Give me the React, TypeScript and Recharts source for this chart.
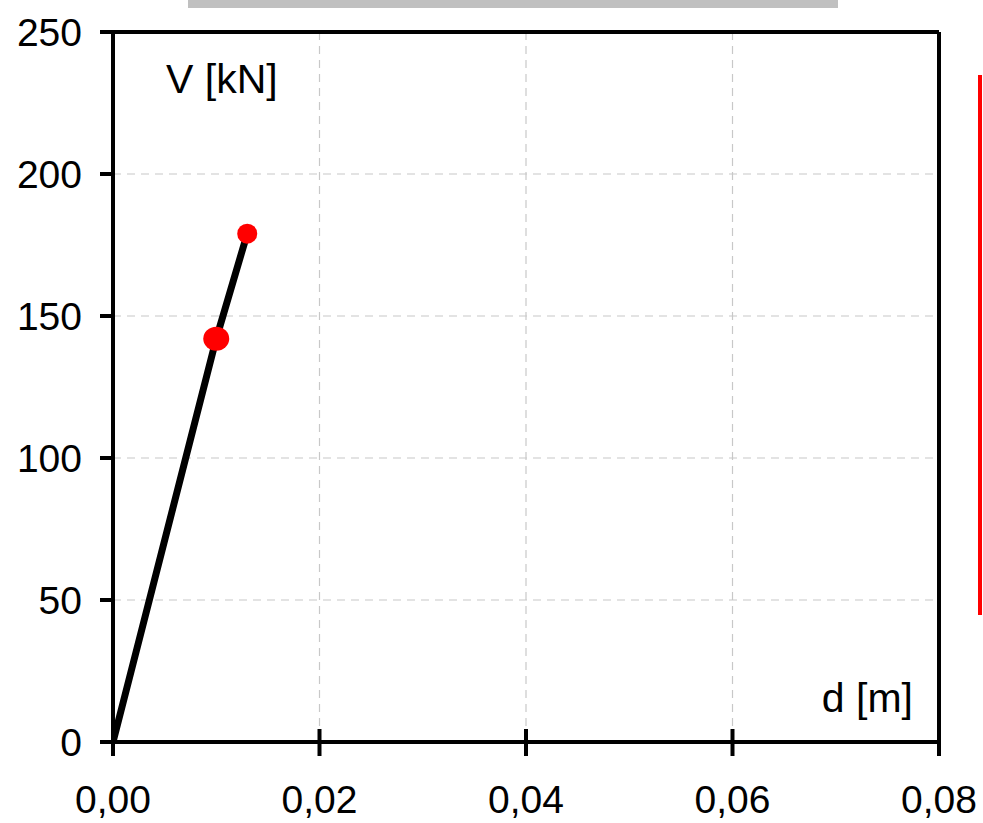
import React from 'react';
import {
  ComposedChart,
  Line,
  Scatter,
  XAxis,
  YAxis,
  CartesianGrid,
  ReferenceLine,
} from 'recharts';

// displacement d [m] and shear V [kN]
const dispValues = [0, 0.01, 0.013];
const shearValues = [0, 142, 179];
const xTicks = [0, 0.02, 0.04, 0.06, 0.08];
const yTicks = [0, 50, 100, 150, 200, 250];
const yieldPoint = [{ d: 0.01, v: 142 }];
const ultimatePoint = [{ d: 0.013, v: 179 }];

const curve = dispValues.map((d, i) => ({ d, v: shearValues[i] }));

const FONT = '"Liberation Sans", Arial, sans-serif';

const XTick = (props: any) => {
  const { x, y, payload } = props;
  return (
    <g>
      <line x1={x} x2={x} y1={y - 13} y2={y + 14} stroke="#000" strokeWidth={4} />
      <text x={x} y={y + 71} textAnchor="middle" fill="#000" fontSize={39} fontFamily={FONT}>
        {payload.value.toFixed(2).replace('.', ',')}
      </text>
    </g>
  );
};

export default function App() {
  return (
    <div style={{ position: 'absolute', left: 0, top: 0, width: 983, height: 823, background: '#fff' }}>
      <div style={{ position: 'absolute', left: 188, top: 0, width: 650, height: 8, background: '#c0c0c0' }} />
      <div style={{ position: 'absolute', left: 978, top: 75, width: 4, height: 540, background: '#ff0000' }} />
      <ComposedChart
        width={983}
        height={823}
        margin={{ top: 32, right: 44, left: 0, bottom: 0 }}
        style={{ fontFamily: FONT }}
      >
        <CartesianGrid stroke="#c8c8c8" strokeDasharray="8 6" strokeWidth={1.2} />
        <XAxis
          type="number"
          dataKey="d"
          domain={[0, 0.08]}
          ticks={xTicks}
          height={81}
          tickSize={0}
          tickMargin={0}
          tickLine={false}
          axisLine={{ stroke: '#000', strokeWidth: 4 }}
          tick={<XTick />}
          allowDataOverflow
        />
        <YAxis
          type="number"
          dataKey="v"
          domain={[0, 250]}
          ticks={yTicks}
          width={113}
          tickSize={13}
          tickMargin={18}
          tickLine={{ stroke: '#000', strokeWidth: 4 }}
          axisLine={{ stroke: '#000', strokeWidth: 4 }}
          tick={{ fill: '#000', fontSize: 39, fontFamily: FONT }}
          allowDataOverflow
        />
        <ReferenceLine y={250} stroke="#000" strokeWidth={4} />
        <ReferenceLine x={0.08} stroke="#000" strokeWidth={4} />
        <Line
          data={curve}
          dataKey="v"
          stroke="#000"
          strokeWidth={7}
          dot={false}
          activeDot={false}
          isAnimationActive={false}
        />
        <Scatter
          data={yieldPoint}
          dataKey="v"
          fill="#ff0000"
          isAnimationActive={false}
          shape={(p: any) => <ellipse cx={p.cx} cy={p.cy} rx={13} ry={12} fill="#ff0000" />}
        />
        <Scatter
          data={ultimatePoint}
          dataKey="v"
          fill="#ff0000"
          isAnimationActive={false}
          shape={(p: any) => <circle cx={p.cx} cy={p.cy} r={10} fill="#ff0000" />}
        />
        <text x={166} y={93} fontSize={41} fontFamily={FONT} fill="#000">
          V [kN]
        </text>
        <text x={913} y={712} textAnchor="end" fontSize={41} fontFamily={FONT} fill="#000">
          d [m]
        </text>
      </ComposedChart>
    </div>
  );
}
